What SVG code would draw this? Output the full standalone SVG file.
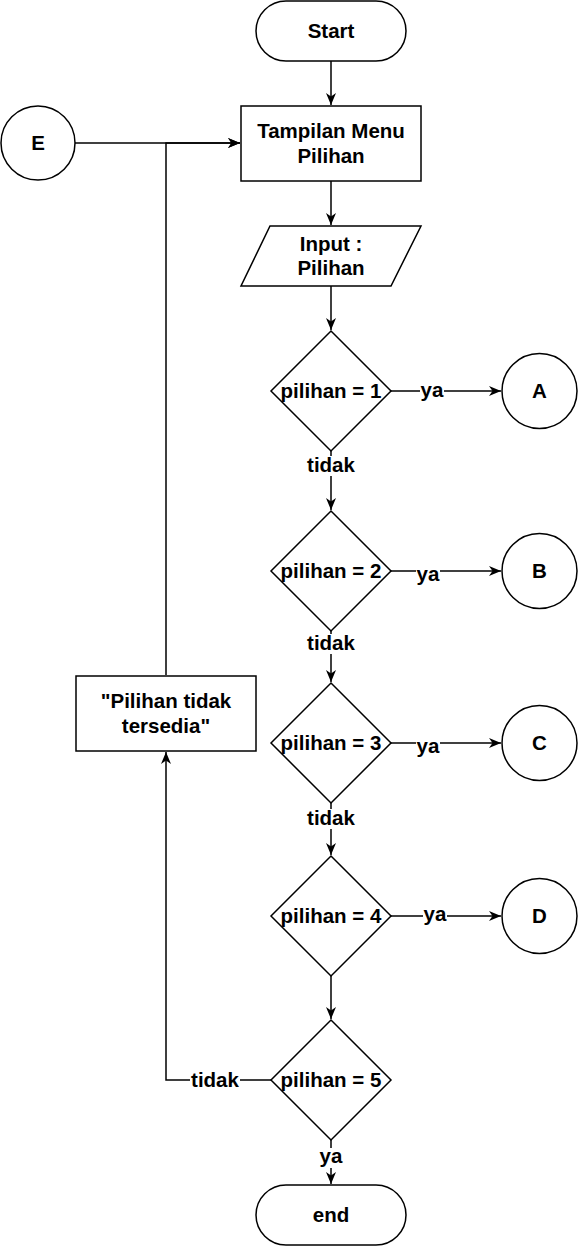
<svg xmlns="http://www.w3.org/2000/svg" width="578" height="1247" viewBox="0 0 578 1247">
<defs>
<marker id="arr" markerUnits="userSpaceOnUse" markerWidth="13" markerHeight="11" viewBox="0 0 13 11" refX="12" refY="5.5" orient="auto">
<path d="M0,0.5 L12,5.5 L0,10.5 L3.5,5.5 Z" fill="#000"/>
</marker>
<style>
.s{fill:#fff;stroke:#000;stroke-width:1.5}
.t{font-family:"Liberation Sans",Arial,sans-serif;font-weight:bold;font-size:20.5px;text-anchor:middle;fill:#000}
.c{fill:none;stroke:#000;stroke-width:1.5}
.bg{fill:#fff}
</style>
</defs>
<rect width="578" height="1247" fill="#fff"/>
<g id="connectors">
<path class="c" d="M331,61 V105" marker-end="url(#arr)"/>
<path class="c" d="M331,181 V225" marker-end="url(#arr)"/>
<path class="c" d="M331,286 V330" marker-end="url(#arr)"/>
<path class="c" d="M391,391 H501" marker-end="url(#arr)"/>
<path class="c" d="M331,451 V510" marker-end="url(#arr)"/>
<path class="c" d="M391,571 H501" marker-end="url(#arr)"/>
<path class="c" d="M331,631 V682" marker-end="url(#arr)"/>
<path class="c" d="M391,743 H501" marker-end="url(#arr)"/>
<path class="c" d="M331,803 V855" marker-end="url(#arr)"/>
<path class="c" d="M391,916 H501" marker-end="url(#arr)"/>
<path class="c" d="M331,976 V1019" marker-end="url(#arr)"/>
<path class="c" d="M331,1140 V1184" marker-end="url(#arr)"/>
<path class="c" d="M271,1080 H166 V752" marker-end="url(#arr)"/>
<path class="c" d="M166,675 V143 H240" marker-end="url(#arr)"/>
<path class="c" d="M75,143 H240" marker-end="url(#arr)"/>
<g id="labels">
<rect class="bg" x="420" y="382" width="24" height="18"/>
<text class="t" x="432" y="397">ya</text>
<rect class="bg" x="416" y="566" width="24" height="18"/>
<text class="t" x="428" y="581">ya</text>
<rect class="bg" x="416" y="738" width="24" height="18"/>
<text class="t" x="428" y="753">ya</text>
<rect class="bg" x="423" y="907" width="24" height="18"/>
<text class="t" x="435" y="921">ya</text>
<rect class="bg" x="306" y="456" width="50" height="20"/>
<text class="t" x="331" y="472">tidak</text>
<rect class="bg" x="306" y="634" width="50" height="20"/>
<text class="t" x="331" y="650">tidak</text>
<rect class="bg" x="306" y="809" width="50" height="20"/>
<text class="t" x="331" y="825">tidak</text>
<rect class="bg" x="190" y="1071" width="50" height="20"/>
<text class="t" x="215" y="1087">tidak</text>
<rect class="bg" x="319" y="1148" width="24" height="20"/>
<text class="t" x="331" y="1163">ya</text>
</g>
</g>
<g id="start">
<rect class="s" x="256" y="1" width="150" height="60" rx="30" ry="30"/>
<text class="t" x="331" y="38">Start</text>
</g>
<g id="menu">
<rect class="s" x="241" y="106" width="180" height="75"/>
<text class="t" x="331" y="138">Tampilan Menu</text>
<text class="t" x="331" y="163">Pilihan</text>
</g>
<g id="input">
<polygon class="s" points="270,226 421,226 391,286 241,286"/>
<text class="t" x="331" y="251">Input :</text>
<text class="t" x="331" y="275">Pilihan</text>
</g>
<g id="d1">
<polygon class="s" points="331,331 391,391 331,451 271,391"/>
<text class="t" x="331" y="398">pilihan = 1</text>
</g>
<g id="d2">
<polygon class="s" points="331,511 391,571 331,631 271,571"/>
<text class="t" x="331" y="578">pilihan = 2</text>
</g>
<g id="d3">
<polygon class="s" points="331,683 391,743 331,803 271,743"/>
<text class="t" x="331" y="750">pilihan = 3</text>
</g>
<g id="d4">
<polygon class="s" points="331,856 391,916 331,976 271,916"/>
<text class="t" x="331" y="923">pilihan = 4</text>
</g>
<g id="d5">
<polygon class="s" points="331,1020 391,1080 331,1140 271,1080"/>
<text class="t" x="331" y="1087">pilihan = 5</text>
</g>
<g id="A">
<circle class="s" cx="539.5" cy="391" r="37.5"/>
<text class="t" x="539.5" y="398">A</text>
</g>
<g id="B">
<circle class="s" cx="539.5" cy="571" r="37.5"/>
<text class="t" x="539.5" y="578">B</text>
</g>
<g id="C">
<circle class="s" cx="539.5" cy="743" r="37.5"/>
<text class="t" x="539.5" y="750">C</text>
</g>
<g id="D">
<circle class="s" cx="539.5" cy="916" r="37.5"/>
<text class="t" x="539.5" y="923">D</text>
</g>
<g id="E">
<circle class="s" cx="38" cy="143" r="37"/>
<text class="t" x="38" y="150">E</text>
</g>
<g id="tidak-tersedia">
<rect class="s" x="76" y="676" width="180" height="75"/>
<text class="t" x="166" y="708">"Pilihan tidak</text>
<text class="t" x="166" y="733">tersedia"</text>
</g>
<g id="end">
<rect class="s" x="256" y="1185" width="150" height="60" rx="30" ry="30"/>
<text class="t" x="331" y="1222">end</text>
</g>
</svg>
